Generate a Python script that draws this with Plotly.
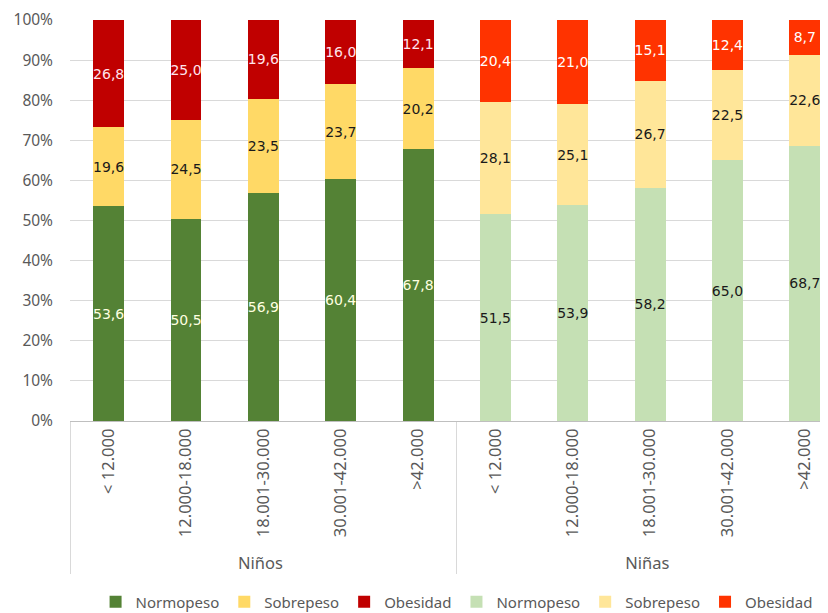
import plotly.graph_objects as go

groups = ["Niños", "Niñas"]
income = ["< 12.000", "12.000-18.000", "18.001-30.000", "30.001-42.000", ">42.000"]

ninos_normopeso = [53.6, 50.5, 56.9, 60.4, 67.8]
ninos_sobrepeso = [19.6, 24.5, 23.5, 23.7, 20.2]
ninos_obesidad = [26.8, 25.0, 19.6, 16.0, 12.1]

ninas_normopeso = [51.5, 53.9, 58.2, 65.0, 68.7]
ninas_sobrepeso = [28.1, 25.1, 26.7, 22.5, 22.6]
ninas_obesidad = [20.4, 21.0, 15.1, 12.4, 8.7]

y_ticks = [0, 10, 20, 30, 40, 50, 60, 70, 80, 90, 100]

series = [
    ("Normopeso", groups[0], ninos_normopeso, "#548235", "#FFFFE0"),
    ("Sobrepeso", groups[0], ninos_sobrepeso, "#FFD966", "#1A1A1A"),
    ("Obesidad", groups[0], ninos_obesidad, "#C00000", "#FFE4EC"),
    ("Normopeso", groups[1], ninas_normopeso, "#C5E0B4", "#1A1A1A"),
    ("Sobrepeso", groups[1], ninas_sobrepeso, "#FFE699", "#1A1A1A"),
    ("Obesidad", groups[1], ninas_obesidad, "#FF3300", "#FFFFFF"),
]

fig = go.Figure()
for name, grp, vals, color, tcolor in series:
    fig.add_trace(go.Bar(
        name=name,
        x=[[grp] * len(income), income],
        y=vals,
        marker=dict(color=color, line=dict(width=0)),
        text=[f"{v:.1f}".replace(".", ",") for v in vals],
        textposition="inside",
        insidetextanchor="middle",
        textangle=0,
        textfont=dict(family="DejaVu Sans", size=14, color=tcolor),
        hoverinfo="skip",
    ))

fig.update_layout(
    barmode="stack",
    barnorm="percent",
    bargap=0.6,
    width=820,
    height=605,
    margin=dict(l=62, r=0, t=12, b=192),
    paper_bgcolor="white",
    plot_bgcolor="white",
    uniformtext=dict(minsize=14, mode="show"),
    font=dict(family="Noto Sans", color="#595959"),
    legend=dict(
        orientation="h",
        x=0.51, xanchor="center",
        xref="paper",
        yref="container",
        y=0.018, yanchor="middle",
        font=dict(size=15, color="#595959"),
        itemwidth=30,
        traceorder="normal",
    ),
    showlegend=True,
)

fig.update_yaxes(
    range=[0, 100],
    tickvals=y_ticks,
    ticktext=[f"{v}%" for v in y_ticks],
    showgrid=True,
    gridcolor="#D9D9D9",
    gridwidth=1,
    zeroline=False,
    showline=False,
    automargin=False,
    ticklabelstandoff=16,
    tickfont=dict(size=15.5, color="#595959"),
)

fig.update_xaxes(
    type="multicategory",
    range=[-0.5, 9.3],
    tickangle=-90,
    showline=True,
    linecolor="#BFBFBF",
    linewidth=1,
    automargin=False,
    showdividers=True,
    dividercolor="#D9D9D9",
    dividerwidth=1,
    tickfont=dict(size=16.5, color="#595959"),
)

fig.write_html("out.html")
